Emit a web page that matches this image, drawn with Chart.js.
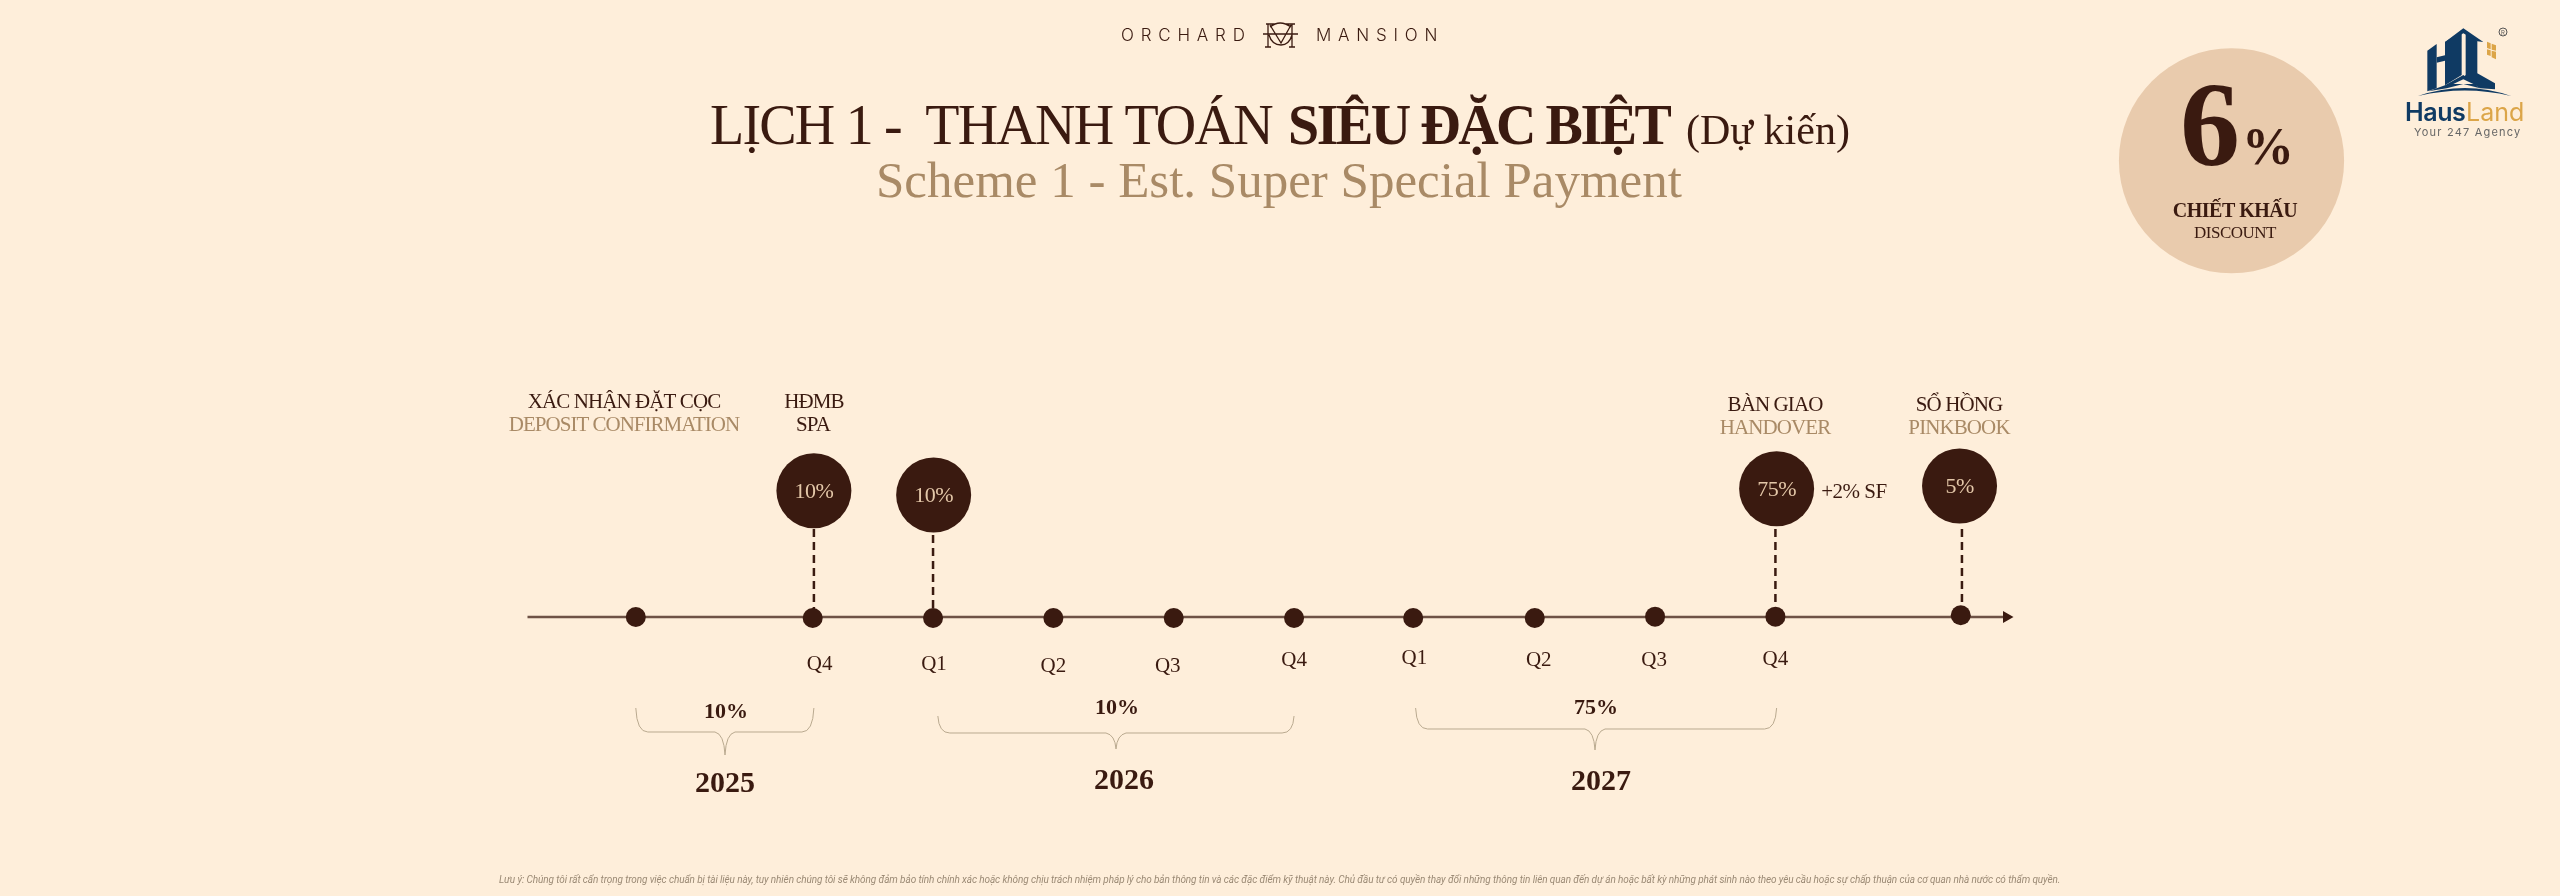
<!DOCTYPE html>
<html>
<head>
<meta charset="utf-8">
<title>Orchard Mansion</title>
<script src="https://cdn.jsdelivr.net/npm/chart.js@4/dist/chart.umd.min.js"></script>
<style>
html,body{margin:0;padding:0;background:#feeeda;}
#wrap{width:2560px;height:896px;position:relative;}
</style>
</head>
<body>
<div id="wrap"><canvas id="timeline" width="2560" height="896"></canvas></div>
<script>
/* ---------------- Data ---------------- */
// x is counted in quarters from Q4 2025, y in rows above the time axis
const quarterLabels = ["Q4","Q1","Q2","Q3","Q4","Q1","Q2","Q3","Q4"];
const quarterX = [0,1,2,3,4,5,6,7,8];

const dotX = [-1.47,0,1,2,3,4,4.99,6,7,8,9.54];
const dotY = [0,-0.008,-0.008,-0.008,-0.008,-0.008,-0.008,-0.008,0.003,0.003,0.014];

const paymentLabels = ["10%","10%","75%","5%"];
const paymentX = [0.01,1.005,8.01,9.53];
const paymentY = [1.01,0.976,1.026,1.048];
const stemX = [0.01,1,8,9.55];
const stemTop = [0.704,0.656,0.704,0.704];

const axisX = [-2.37,9.92];
const discountX = [11.79];
const discountY = [3.65];

const yearLabels = ["2025","2026","2027"];
const yearShares = ["10%","10%","75%"];
const yearFrom = [-1.47,1.04,5.01];
const yearTo = [0.01,4,8.01];

/* ---------------- Colours ---------------- */
const BG = "#feeeda";
const DARK = "#3a1a10";
const TAN = "#a98a66";
const SERIF = '"Liberation Serif"';

const xMin = -812.7/120.34, xMax = (2560-812.7)/120.34;
const yMax = 617/125, yMin = -(896-617)/125;

function pts(xs,ys){
  return xs.map((x,i)=>({x:x,y:ys[i]}));
}

const stems = stemX.map((x,i)=>({
  type:"line",
  data:[{x:x,y:stemTop[i]},{x:x,y:0}],
  borderColor:DARK,
  borderWidth:2.5,
  borderDash:[8,5],
  pointRadius:0,
  order:3
}));

/* ---------------- Text and decoration ---------------- */
function txt(ctx,s,x,y,font,color,align,spacing){
  ctx.font = font;
  ctx.fillStyle = color;
  ctx.textAlign = align || "center";
  ctx.textBaseline = "alphabetic";
  ctx.letterSpacing = (spacing||0)+"px";
  ctx.fillText(s,x,y);
  ctx.letterSpacing = "0px";
}

function poly(ctx,p,color){
  ctx.fillStyle = color;
  ctx.beginPath();
  p.forEach((q,i)=>{
    const px = 2400+q[0]/3, py = 20+q[1]/3;
    if(i==0) ctx.moveTo(px,py); else ctx.lineTo(px,py);
  });
  ctx.closePath();
  ctx.fill();
}

function drawBrace(ctx,x0,x1,tip,top,mid,end){
  ctx.beginPath();
  ctx.moveTo(x0,top);
  ctx.quadraticCurveTo(x0+1,mid,x0+12,mid);
  ctx.lineTo(tip-10,mid);
  ctx.quadraticCurveTo(tip-1,mid+2,tip,end);
  ctx.quadraticCurveTo(tip+1,mid+2,tip+10,mid);
  ctx.lineTo(x1-12,mid);
  ctx.quadraticCurveTo(x1-1,mid,x1,top);
  ctx.stroke();
}

function drawMonogram(ctx){
  ctx.strokeStyle = DARK;
  ctx.lineWidth = 1.3;
  ctx.beginPath();
  ctx.moveTo(1263,34); ctx.lineTo(1298,34);
  ctx.moveTo(1266,24); ctx.lineTo(1276,24);
  ctx.moveTo(1286,24); ctx.lineTo(1295,24);
  ctx.moveTo(1268,24); ctx.lineTo(1268,47);
  ctx.moveTo(1292,24); ctx.lineTo(1292,47);
  ctx.moveTo(1265,47); ctx.lineTo(1271,47);
  ctx.moveTo(1289,47); ctx.lineTo(1295,47);
  ctx.moveTo(1270,25); ctx.lineTo(1281,43); ctx.lineTo(1291,25);
  ctx.moveTo(1270,27); ctx.quadraticCurveTo(1280,19,1291,27);
  ctx.moveTo(1269,35); ctx.quadraticCurveTo(1272,45,1281,45);
  ctx.quadraticCurveTo(1289,45,1292,35);
  ctx.stroke();
}

function drawHausLogo(ctx){
  const navy = "#0f3a63", gold = "#dca548";
  poly(ctx,[[82,92],[110,72],[110,205],[82,214]],navy);
  poly(ctx,[[110,112],[135,106],[135,122],[110,128]],navy);
  poly(ctx,[[135,66],[185,35],[185,165],[135,196]],navy);
  poly(ctx,[[197,35],[232,62],[232,160],[285,190],[285,208],[240,205],[190,172],[197,165]],navy);
  poly(ctx,[[135,66],[190,25],[250,66],[232,64],[190,40],[135,72]],navy);
  poly(ctx,[[135,196],[190,165],[240,205],[190,192],[140,205],[85,214]],navy);
  poly(ctx,[[190,178],[160,192],[220,192]],BG);
  // roof sweep under the building
  ctx.fillStyle = navy;
  ctx.beginPath();
  ctx.moveTo(2418,96);
  ctx.quadraticCurveTo(2465,80,2511,96);
  ctx.quadraticCurveTo(2465,85,2418,96);
  ctx.fill();
  poly(ctx,[[261,65],[272,70],[272,88],[261,84]],gold);
  poly(ctx,[[275,71],[288,76],[288,92],[275,89]],gold);
  poly(ctx,[[261,88],[272,91],[272,108],[261,104]],gold);
  poly(ctx,[[275,92],[288,95],[288,118],[275,112]],gold);
  ctx.strokeStyle = "#555555";
  ctx.lineWidth = 1;
  ctx.beginPath();
  ctx.arc(2503,32,4,0,Math.PI*2);
  ctx.stroke();
  txt(ctx,"R",2503,35,'6px "Inter"',"#555555");
  txt(ctx,"Haus",2405,121,'600 25px "Inter"',navy,"left",-0.4);
  txt(ctx,"Land",2466,121,'400 25px "Inter"',gold,"left");
  txt(ctx,"Your 247 Agency",2414,136,'400 11px "Inter"',"#666666","left",1.2);
}

const labelsPlugin = {
  id:"timelineLabels",
  afterDatasetsDraw(chart){
    const ctx = chart.ctx;
    const sx = chart.scales.x, sy = chart.scales.y;
    ctx.save();

    /* header */
    txt(ctx,"ORCHARD",1121,41,'300 17px "Inter"',DARK,"left",6.8);
    txt(ctx,"MANSION",1316,41,'300 17px "Inter"',DARK,"left",6.8);
    drawMonogram(ctx);
    txt(ctx,"LỊCH 1 -  THANH TOÁN",710,144,'56px '+SERIF,DARK,"left",-1.8);
    txt(ctx,"SIÊU ĐẶC BIỆT",1288,144,'bold 56px '+SERIF,DARK,"left",-2.5);
    txt(ctx,"(Dự kiến)",1686,144,'42px '+SERIF,DARK,"left");
    txt(ctx,"Scheme 1 - Est. Super Special Payment",876,197,'51px '+SERIF,TAN,"left");

    /* discount */
    txt(ctx,"6",2210,165,'bold 120px '+SERIF,DARK);
    txt(ctx,"%",2268,164,'bold 52px '+SERIF,DARK);
    txt(ctx,"CHIẾT KHẤU",2235,217,'bold 20px '+SERIF,DARK,"center",-0.5);
    txt(ctx,"DISCOUNT",2235,238,'17px '+SERIF,DARK,"center",-0.5);
    drawHausLogo(ctx);

    /* milestones */
    const F = '21px '+SERIF;
    txt(ctx,"XÁC NHẬN ĐẶT CỌC",624,408,F,DARK,"center",-0.9);
    txt(ctx,"DEPOSIT CONFIRMATION",624,431,F,TAN,"center",-1);
    txt(ctx,"HĐMB",814,408,F,DARK,"center",-0.9);
    txt(ctx,"SPA",813,431,F,DARK,"center",-0.9);
    txt(ctx,"BÀN GIAO",1775,411,F,DARK,"center",-0.9);
    txt(ctx,"HANDOVER",1775,434,F,TAN,"center",-0.9);
    txt(ctx,"SỔ HỒNG",1959,411,F,DARK,"center",-0.9);
    txt(ctx,"PINKBOOK",1959,434,F,TAN,"center",-0.9);
    txt(ctx,"+2% SF",1854,498,F,DARK,"center",-0.5);

    paymentLabels.forEach((s,i)=>{
      txt(ctx,s,sx.getPixelForValue(paymentX[i]),sy.getPixelForValue(paymentY[i])+7,'22px '+SERIF,"#e3c7a8","center",-0.5);
    });

    /* quarters */
    const qShift = [7,1,0,-6,0,0,4,-1,0];
    const qBase = [670,670,672,672,666,664,666,666,665];
    quarterLabels.forEach((s,i)=>{
      txt(ctx,s,sx.getPixelForValue(quarterX[i])+qShift[i],qBase[i],'21px '+SERIF,DARK);
    });

    /* year braces */
    const braceY = [[708,732,755,718,792],[716,733,749,714,789],[708,729,750,714,790]];
    const tipX = [725,1116,1595];
    const yearTextX = [725,1124,1601];
    ctx.strokeStyle = "#b9a98f";
    ctx.lineWidth = 1;
    yearLabels.forEach((s,i)=>{
      const b = braceY[i];
      drawBrace(ctx,sx.getPixelForValue(yearFrom[i]),sx.getPixelForValue(yearTo[i]),tipX[i],b[0],b[1],b[2]);
      txt(ctx,yearShares[i],tipX[i]+1,b[3],'bold 22px '+SERIF,DARK);
      txt(ctx,s,yearTextX[i],b[4],'bold 30px '+SERIF,DARK);
    });

    /* footnote */
    txt(ctx,"Lưu ý: Chúng tôi rất cẩn trọng trong việc chuẩn bị tài liệu này, tuy nhiên chúng tôi sẽ không đảm bảo tính chính xác hoặc không chịu trách nhiệm pháp lý cho bản thông tin và các đặc điểm kỹ thuật này. Chủ đầu tư có quyền thay đổi những thông tin liên quan đến dự án hoặc bất kỳ những phát sinh nào theo yêu cầu hoặc sự chấp thuận của cơ quan nhà nước có thẩm quyền.",
      499,883,'italic 10px "Roboto"',"#9b8a75","left",-0.1);
    ctx.restore();
  }
};

/* ---------------- Chart ---------------- */
new Chart(document.getElementById("timeline"),{
  type:"scatter",
  data:{
    datasets:[
      {
        label:"discount",
        data:pts(discountX,discountY),
        backgroundColor:"#e9cbad",
        borderColor:"#e9cbad",
        pointRadius:112.6,
        pointBorderWidth:0,
        order:5
      },
      {
        type:"line",
        label:"axis",
        data:pts(axisX,[0,0]),
        borderColor:"#6e5245",
        borderWidth:2.5,
        backgroundColor:DARK,
        pointStyle:"triangle",
        pointRotation:90,
        pointRadius:[0,7],
        pointBorderWidth:0,
        order:4
      },
      ...stems,
      {
        label:"quarters",
        data:pts(dotX,dotY),
        backgroundColor:DARK,
        borderColor:DARK,
        pointRadius:10,
        pointBorderWidth:0,
        order:2
      },
      {
        label:"payments",
        data:pts(paymentX,paymentY),
        backgroundColor:DARK,
        borderColor:DARK,
        pointRadius:37.5,
        pointBorderWidth:0,
        order:1
      }
    ]
  },
  options:{
    responsive:false,
    animation:false,
    devicePixelRatio:1,
    layout:{padding:0,autoPadding:false},
    clip:false,
    plugins:{legend:{display:false},tooltip:{enabled:false},title:{display:false}},
    scales:{
      x:{type:"linear",display:false,min:xMin,max:xMax},
      y:{type:"linear",display:false,min:yMin,max:yMax}
    }
  },
  plugins:[labelsPlugin]
});
</script>
</body>
</html>
